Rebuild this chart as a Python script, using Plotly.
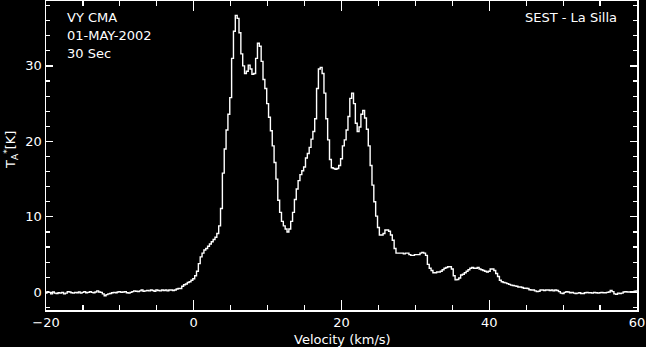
import plotly.graph_objects as go

# Channel spacing of the spectrum (km/s) and starting velocity
v_start = -20.0
v_step = 0.25

# Antenna temperature T_A* [K], one value per channel from -20 to 60 km/s
temps = [
    # -20 .. -18
    -0.1, 0.1, 0.0, -0.2, 0.05, -0.1, -0.15, -0.05,
    # -18 .. -16
    -0.1, 0.0, -0.2, -0.1, 0.1, 0.05, -0.05, -0.1,
    # -16 .. -14
    0.0, -0.05, 0.05, -0.1, 0.0, 0.1, -0.05, 0.0,
    # -14 .. -12
    0.1, 0.0, -0.05, 0.05, 0.2, 0.05, 0.0, -0.2,
    # -12 .. -10
    -0.45, -0.3, -0.2, -0.15, -0.05, 0.0, -0.05, 0.05,
    # -10 .. -8
    0.1, 0.0, 0.05, 0.1, -0.05, -0.1, 0.0, 0.1,
    # -8 .. -6
    0.2, 0.15, 0.1, 0.2, 0.3, 0.15, 0.2, 0.25,
    # -6 .. -4
    0.2, 0.3, 0.25, 0.15, 0.3, 0.25, 0.2, 0.3,
    # -4 .. -2
    0.25, 0.3, 0.2, 0.3, 0.3, 0.25, 0.3, 0.45,
    # -2 .. 0
    0.5, 0.5, 0.8, 1.0, 1.1, 1.3, 1.4, 1.6,
    # 0 .. 2
    1.8, 2.2, 2.8, 3.8, 4.7, 5.2, 5.6, 5.8,
    # 2 .. 4
    6.1, 6.4, 6.7, 7.0, 7.3, 7.8, 8.8, 11.1,
    # 4 .. 6
    15.8, 19.0, 21.5, 23.6, 25.8, 31.0, 34.6, 36.7,
    # 6 .. 8
    36.3, 34.4, 31.6, 30.0, 29.0, 29.3, 30.1, 29.6,
    # 8 .. 10
    28.9, 29.0, 31.0, 33.0, 32.6, 30.6, 28.2, 27.0,
    # 10 .. 12
    25.0, 23.2, 21.4, 19.4, 17.2, 15.0, 12.2, 10.6,
    # 12 .. 14
    9.4, 8.8, 8.4, 8.0, 8.4, 9.4, 10.6, 12.3,
    # 14 .. 16
    13.7, 14.8, 15.6, 16.1, 16.6, 17.8, 18.4, 19.2,
    # 16 .. 18
    20.3, 21.3, 23.0, 27.0, 29.6, 29.8, 29.0, 26.4,
    # 18 .. 20
    23.0, 20.2, 17.6, 16.5, 16.4, 16.3, 16.4, 16.8,
    # 20 .. 22
    17.7, 19.4, 20.2, 21.5, 23.3, 25.7, 26.4, 25.0,
    # 22 .. 24
    22.4, 21.3, 21.9, 23.6, 24.1, 23.1, 21.6, 19.4,
    # 24 .. 26
    16.8, 14.2, 12.0, 10.1, 8.6, 7.6, 7.6, 7.8,
    # 26 .. 28
    8.25, 8.25, 8.1, 7.6, 6.9, 5.8, 5.2, 5.2,
    # 28 .. 30
    5.2, 5.2, 5.1, 5.2, 5.2, 5.0, 4.9, 4.9,
    # 30 .. 32
    5.0, 5.0, 5.0, 5.2, 5.3, 5.2, 4.9, 3.7,
    # 32 .. 34
    3.2, 2.9, 2.6, 2.6, 2.7, 2.7, 2.8, 3.0,
    # 34 .. 36
    3.2, 3.3, 3.4, 3.4, 3.1, 2.2, 1.65, 1.7,
    # 36 .. 38
    1.9, 2.3, 2.4, 2.6, 2.8, 3.0, 3.2, 3.3,
    # 38 .. 40
    3.2, 3.2, 3.3, 3.1, 3.0, 2.9, 2.8, 2.7,
    # 40 .. 42
    2.8, 3.1, 3.1, 2.9, 2.5, 2.1, 1.6, 1.4,
    # 42 .. 44
    1.3, 1.25, 1.15, 1.05, 0.95, 0.9, 0.85, 0.8,
    # 44 .. 46
    0.7, 0.7, 0.65, 0.55, 0.55, 0.5, 0.35, 0.3,
    # 46 .. 48
    0.3, 0.2, 0.1, 0.15, 0.3, 0.3, 0.25, 0.3,
    # 48 .. 50
    0.3, 0.25, 0.3, 0.2, 0.3, 0.25, 0.1, -0.1,
    # 50 .. 52
    -0.15, 0.0, 0.1, 0.05, -0.05, 0.0, -0.1, -0.15,
    # 52 .. 54
    -0.1, -0.05, -0.15, -0.15, -0.05, 0.0, -0.05, -0.05,
    # 54 .. 56
    -0.1, 0.0, -0.05, -0.1, -0.05, 0.0, -0.05, -0.05,
    # 56 .. 58
    0.0, 0.05, 0.25, 0.1, -0.2, -0.25, -0.1, -0.15,
    # 58 .. 60
    -0.1, 0.05, 0.1, 0.05, 0.05, 0.1, 0.1, 0.15,
    # 60
    0.2,
]
velocity = [v_start + v_step * i for i in range(len(temps))]

x_ticks = [-20, 0, 20, 40, 60]
y_ticks = [0, 10, 20, 30]

x_title = "Velocity (km/s)"
y_title = "T<sub>A</sub><sup>*</sup>[K]"
source_label = "VY CMA"
date_label = "01-MAY-2002"
time_label = "30 Sec"
site_label = "SEST - La Silla"

FONT = "DejaVu Sans"
W, H = 646, 347
L, R, T, B = 46, 9, 1, 37
PW, PH = W - L - R, H - T - B

fig = go.Figure()
fig.add_trace(go.Scatter(
    x=velocity, y=temps, mode="lines",
    line=dict(color="white", width=1.4, shape="hvh"),
    hoverinfo="skip", showlegend=False,
))

axis_common = dict(
    showgrid=False, zeroline=False, showline=True, linecolor="white", linewidth=1.5,
    mirror="ticks", ticks="inside", tickcolor="white", tickwidth=1.2, automargin=False,
    tickfont=dict(family=FONT, size=13, color="white"),
)
fig.update_xaxes(
    range=[-20, 60], tickvals=x_ticks, ticklen=10,
    minor=dict(dtick=5, ticks="inside", ticklen=5, tickcolor="white", tickwidth=1.2),
    **axis_common,
)
fig.update_yaxes(
    range=[-2.34, 38.6], tickvals=y_ticks, ticklen=7,
    minor=dict(dtick=2, ticks="inside", ticklen=4, tickcolor="white", tickwidth=1.2),
    **axis_common,
)


def px_to_paper(xp, yp):
    return (xp - L) / PW, 1 - (yp - T) / PH


def add_text(txt, xp, yp, xanchor="left", angle=0, size=13):
    x, y = px_to_paper(xp, yp)
    fig.add_annotation(
        text=txt, xref="paper", yref="paper", x=x, y=y,
        xanchor=xanchor, yanchor="middle", showarrow=False, textangle=angle,
        font=dict(family=FONT, size=size, color="white"),
    )


add_text(source_label, 65, 17)
add_text(date_label, 65, 35)
add_text(time_label, 65, 53)
add_text(site_label, 619, 17, xanchor="right")
add_text(x_title, 342, 339, xanchor="center", size=13)
add_text(y_title, 11, 150, xanchor="center", angle=-90, size=13)

fig.update_layout(
    width=W, height=H,
    margin=dict(l=L, r=R, t=T, b=B),
    paper_bgcolor="black", plot_bgcolor="black",
)
fig.write_html(
    "out.html",
    config={"displayModeBar": False, "staticPlot": True},
    post_script="document.body.style.margin='0';document.body.style.background='black';",
)
